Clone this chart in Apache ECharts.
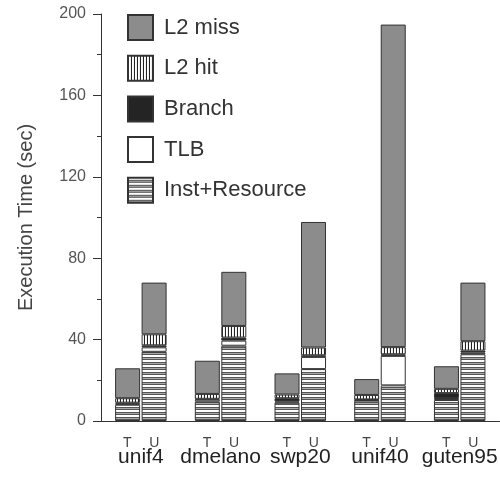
<!DOCTYPE html>
<html>
<head>
<meta charset="utf-8">
<script src="https://cdn.jsdelivr.net/npm/echarts@6/dist/echarts.min.js"></script>
<style>
html,body{margin:0;padding:0;background:#fff;}
#chart{width:500px;height:477px;}
</style>
</head>
<body>
<div id="chart"></div>
<script>
// ---- data ----
var categories = ['unif4', 'dmelano', 'swp20', 'unif40', 'guten95'];
var subLabels = ['T', 'U'];
var seriesNames = ['Inst+Resource', 'TLB', 'Branch', 'L2 hit', 'L2 miss'];
var legendOrder = ['L2 miss', 'L2 hit', 'Branch', 'TLB', 'Inst+Resource'];
var yTicks = [0, 40, 80, 120, 160, 200];

// T bars
var instT   = [8.0, 9.5, 9.0, 10.0, 10.3];
var tlbT    = [0.5, 1.0, 0.6, 0.3, 1.0];
var branchT = [0.5, 0.4, 1.6, 0.3, 2.4];
var l2hitT  = [2.2, 2.4, 1.8, 2.2, 2.1];
var l2missT = [14.7, 16.3, 10.4, 7.8, 11.1];
// U bars
var instU   = [34.0, 37.0, 25.5, 17.5, 32.8];
var tlbU    = [2.2, 2.5, 6.0, 14.5, 0.8];
var branchU = [1.0, 1.5, 0.8, 0.8, 1.0];
var l2hitU  = [5.4, 5.7, 3.8, 3.5, 4.6];
var l2missU = [25.4, 26.6, 61.7, 158.5, 28.8];

// ---- patterns ----
function makePattern(w, h, draw) {
  var c = document.createElement('canvas');
  c.width = w; c.height = h;
  var ctx = c.getContext('2d');
  draw(ctx);
  return { image: c, repeat: 'repeat' };
}
var hStripes = makePattern(4, 5, function (ctx) {
  var rows = ['#ffffff', '#ffffff', '#555555', '#a8a8a8', '#555555'];
  for (var i = 0; i < rows.length; i++) { ctx.fillStyle = rows[i]; ctx.fillRect(0, i, 4, 1); }
});
var vStripes = makePattern(3, 4, function (ctx) {
  var cols = ['#222222', '#ffffff', '#f0f0f0'];
  for (var i = 0; i < cols.length; i++) { ctx.fillStyle = cols[i]; ctx.fillRect(i, 0, 1, 4); }
});
var fills = {
  'Inst+Resource': hStripes,
  'TLB': '#ffffff',
  'Branch': '#242424',
  'L2 hit': vStripes,
  'L2 miss': '#8c8c8c'
};

var dataT = [instT, tlbT, branchT, l2hitT, l2missT];
var dataU = [instU, tlbU, branchU, l2hitU, l2missU];

var series = [];
[['T', dataT], ['U', dataU]].forEach(function (pair) {
  seriesNames.forEach(function (name, i) {
    series.push({
      name: name,
      type: 'bar',
      stack: pair[0],
      barWidth: 25,
      barGap: '6%',
      data: pair[1][i],
      itemStyle: { color: fills[name], borderColor: '#333', borderWidth: 1 },
      emphasis: { disabled: true },
      animation: false
    });
  });
});

var font = '"Liberation Sans", Arial, sans-serif';
var chart = echarts.init(document.getElementById('chart'), null, { renderer: 'canvas' });
chart.setOption({
  backgroundColor: '#fff',
  animation: false,
  grid: { left: 101, top: 14, width: 405, height: 407, containLabel: false },
  legend: {
    data: legendOrder,
    orient: 'vertical',
    left: 122,
    top: 9,
    itemWidth: 25,
    itemHeight: 25,
    itemGap: 13.7,
    icon: 'rect',
    selectedMode: false,
    textStyle: { fontFamily: font, fontSize: 22, color: '#333', padding: [0, 0, 0, 6] }
  },
  xAxis: [{
    type: 'category',
    data: categories,
    position: 'bottom',
    axisLine: { lineStyle: { color: '#333', width: 1 } },
    axisTick: { show: false },
    axisLabel: {
      margin: 15,
      interval: 0,
      formatter: function () { return '{t|' + subLabels[0] + '}{u|' + subLabels[1] + '}'; },
      rich: {
        t: { width: 27, align: 'center', fontFamily: font, fontSize: 14, color: '#444' },
        u: { width: 27, align: 'center', fontFamily: font, fontSize: 14, color: '#444' }
      }
    }
  }, {
    type: 'category',
    data: categories,
    position: 'bottom',
    axisLine: { show: false },
    axisTick: { show: false },
    axisLabel: { margin: 26, interval: 0, fontFamily: font, fontSize: 21, color: '#222' }
  }],
  yAxis: {
    type: 'value',
    min: yTicks[0],
    max: yTicks[yTicks.length - 1],
    interval: 40,
    name: 'Execution Time (sec)',
    nameLocation: 'middle',
    nameGap: 65,
    nameTextStyle: { fontFamily: font, fontSize: 20, color: '#444' },
    axisLine: { show: true, lineStyle: { color: '#333', width: 1 } },
    axisTick: { show: true, length: 8, lineStyle: { color: '#333' } },
    minorTick: { show: true, splitNumber: 2, length: 4, lineStyle: { color: '#333' } },
    splitLine: { show: false },
    axisLabel: { margin: 15, fontFamily: font, fontSize: 16, color: '#555' }
  },
  series: series
});
</script>
</body>
</html>
